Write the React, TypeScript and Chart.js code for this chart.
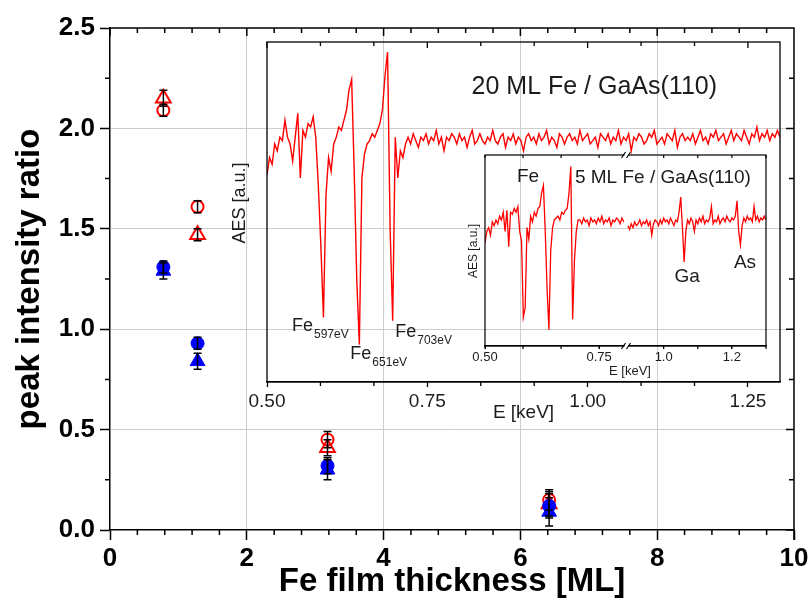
import React, { useEffect, useRef } from 'react';
import { Chart, registerables } from 'chart.js';

Chart.register(...registerables);

// ---------- main plot: peak intensity ratio vs. Fe film thickness ----------
const thicknessML = [0.78, 1.28, 3.18, 6.42];
const redCircleRatio = [2.09, 1.61, 0.45, 0.15];
const redCircleErr = [0.03, 0.03, 0.04, 0.05];
const redTriangleRatio = [2.15, 1.47, 0.41, 0.13];
const redTriangleErr = [0.04, 0.03, 0.04, 0.06];
const blueCircleRatio = [1.31, 0.93, 0.32, 0.12];
const blueCircleErr = [0.03, 0.03, 0.04, 0.06];
const blueTriangleRatio = [1.29, 0.84, 0.30, 0.09];
const blueTriangleErr = [0.04, 0.04, 0.05, 0.07];

// ---------- inset: AES spectrum of 20 ML Fe / GaAs(110) ----------
const spec20Start = 0.5; // keV
const spec20Step = 0.004; // keV
const spec20 = [
  0.61, 0.66, 0.64, 0.70, 0.68, 0.72, 0.71, 0.77, 0.72, 0.70,
  0.65, 0.72, 0.79, 0.60, 0.74, 0.72, 0.76, 0.75, 0.78, 0.72,
  0.58, 0.40, 0.19, 0.55, 0.66, 0.62, 0.70, 0.72, 0.75, 0.74,
  0.77, 0.80, 0.86, 0.89, 0.62, 0.30, 0.11, 0.60, 0.67, 0.70,
  0.71, 0.73, 0.72, 0.74, 0.76, 0.80, 0.90, 0.97, 0.45, 0.18,
  0.72, 0.60, 0.68, 0.66, 0.70,
  0.72, 0.70, 0.73, 0.71, 0.69, 0.72, 0.71, 0.73, 0.70, 0.72,
  0.71, 0.74, 0.70, 0.72, 0.68, 0.72, 0.71, 0.73, 0.72, 0.70,
  0.73, 0.71, 0.72, 0.69, 0.72, 0.74, 0.70, 0.71, 0.73, 0.71,
  0.70, 0.72, 0.71, 0.74, 0.71, 0.70, 0.72, 0.73, 0.69, 0.72,
  0.71, 0.73, 0.70, 0.72, 0.71, 0.68, 0.72, 0.73, 0.71, 0.72,
  0.70, 0.73, 0.71, 0.72, 0.74, 0.70, 0.72, 0.71, 0.69, 0.73,
  0.72, 0.70, 0.72, 0.73, 0.71, 0.72, 0.70, 0.74, 0.71, 0.72,
  0.73, 0.70, 0.71, 0.72, 0.69, 0.73, 0.72, 0.71, 0.73, 0.70,
  0.72, 0.71, 0.74, 0.70, 0.72, 0.71, 0.73, 0.68, 0.72, 0.71,
  0.73, 0.72, 0.70, 0.71, 0.73, 0.72, 0.74, 0.70, 0.71, 0.72,
  0.70, 0.73, 0.72, 0.71, 0.74, 0.69, 0.72, 0.73, 0.71, 0.72,
  0.71, 0.73, 0.70, 0.72, 0.74, 0.71, 0.72, 0.70, 0.73, 0.72,
  0.74, 0.71, 0.72, 0.73, 0.70, 0.72, 0.74, 0.71, 0.73, 0.72,
  0.71, 0.74, 0.72, 0.70, 0.73, 0.72, 0.75, 0.71, 0.73, 0.72,
  0.74, 0.71, 0.73, 0.72, 0.74, 0.72,
];
const spec20TickValues = [0.5, 0.75, 1.0, 1.25];
const spec20TickLabels = ['0.50', '0.75', '1.00', '1.25'];
const spec20Lines = [
  { sub: '597eV', e: 0.539, v: 0.15 },
  { sub: '651eV', e: 0.63, v: 0.068 },
  { sub: '703eV', e: 0.7, v: 0.132 },
];

// ---------- inner inset: 5 ML Fe / GaAs(110), broken energy axis ----------
const spec5LowStart = 0.5;
const spec5LowStep = 0.004;
const spec5Low = [
  0.54, 0.60, 0.62, 0.58, 0.65, 0.63, 0.66, 0.64, 0.68, 0.66,
  0.70, 0.60, 0.71, 0.52, 0.70, 0.69, 0.72, 0.70, 0.73, 0.60,
  0.55, 0.15, 0.20, 0.62, 0.56, 0.68, 0.65, 0.70, 0.68, 0.72,
  0.73, 0.80, 0.84, 0.60, 0.30, 0.085, 0.50, 0.62, 0.66, 0.67,
  0.68, 0.66, 0.70, 0.69, 0.71, 0.72, 0.80, 0.94, 0.14, 0.45,
  0.60, 0.66,
  0.66, 0.64, 0.67, 0.65, 0.66, 0.63, 0.67, 0.65, 0.66, 0.64,
  0.67, 0.65, 0.68, 0.64, 0.66, 0.65, 0.67, 0.63, 0.66, 0.65,
  0.67, 0.66, 0.64, 0.67, 0.65,
];
const spec5HighStart = 0.895;
const spec5HighStep = 0.005;
const spec5High = [
  0.63, 0.61, 0.64, 0.62, 0.65, 0.63, 0.64, 0.66, 0.63, 0.65,
  0.64, 0.66, 0.63, 0.65, 0.58, 0.64, 0.66, 0.65, 0.63, 0.66,
  0.64, 0.67, 0.65, 0.66, 0.64, 0.67, 0.65, 0.63, 0.66, 0.65,
  0.70, 0.78, 0.62, 0.44, 0.60, 0.66, 0.64, 0.67, 0.65, 0.60,
  0.66, 0.64, 0.67, 0.65, 0.68, 0.64, 0.66, 0.65, 0.67, 0.73,
  0.64, 0.66, 0.65, 0.68, 0.64, 0.66, 0.67, 0.65, 0.68, 0.66,
  0.65, 0.67, 0.66, 0.68, 0.76, 0.60, 0.53, 0.63, 0.67, 0.65,
  0.68, 0.66, 0.67, 0.65, 0.73, 0.66, 0.68, 0.65, 0.67, 0.66,
  0.68, 0.66,
];
const spec5LowTicks = [0.5, 0.75];
const spec5LowLabels = ['0.50', '0.75'];
const spec5HighTicks = [1.0, 1.2];
const spec5HighLabels = ['1.0', '1.2'];
const spec5Labels = [
  { text: 'Fe', axis: 'xa', e: 0.57, v: 0.86 },
  { text: '5 ML Fe / GaAs(110)', axis: 'xa', e: 0.697, v: 0.853 },
  { text: 'Ga', axis: 'xb', e: 1.032, v: 0.335 },
  { text: 'As', axis: 'xb', e: 1.206, v: 0.408 },
];

const FAMILY = '"Liberation Sans", Arial, Helvetica, sans-serif';
const RED = '#ff0000';
const BLUE = '#0000ff';
const GRID = '#cdcdcd';
const TEXT = '#1c1c1c';

function stepValues(min: number, max: number, step: number) {
  const out: number[] = [];
  const n = Math.round((max - min) / step);
  for (let k = 0; k <= n; k++) out.push(min + k * step);
  return out;
}
function onStep(v: number, step: number) {
  return Math.abs(v / step - Math.round(v / step)) < 1e-6;
}
function toPoints(start: number, step: number, values: number[]) {
  return values.map((v, i) => ({ x: start + i * step, y: v }));
}

// ---------- plugins ----------
const errorBars = {
  id: 'errorBars',
  afterDatasetsDraw(chart: any) {
    const { ctx } = chart;
    const y = chart.scales.y;
    ctx.save();
    ctx.strokeStyle = '#000';
    ctx.lineWidth = 1.5;
    chart.data.datasets.forEach((ds: any, i: number) => {
      const meta = chart.getDatasetMeta(i);
      meta.data.forEach((pt: any, j: number) => {
        const val = ds.data[j].y;
        const err = ds.errors[j];
        const top = y.getPixelForValue(val + err);
        const bot = y.getPixelForValue(val - err);
        ctx.beginPath();
        ctx.moveTo(pt.x, top);
        ctx.lineTo(pt.x, bot);
        ctx.moveTo(pt.x - 4, top);
        ctx.lineTo(pt.x + 4, top);
        ctx.moveTo(pt.x - 4, bot);
        ctx.lineTo(pt.x + 4, bot);
        ctx.stroke();
      });
    });
    ctx.restore();
  },
};

const mainFrame = {
  id: 'mainFrame',
  afterDraw(chart: any) {
    const { ctx, chartArea: a } = chart;
    const x = chart.scales.x;
    const y = chart.scales.y;
    ctx.save();
    ctx.strokeStyle = '#000';
    ctx.lineWidth = 1.5;
    ctx.beginPath();
    ctx.moveTo(a.left, a.top);
    ctx.lineTo(a.right, a.top);
    ctx.lineTo(a.right, a.bottom + 10);
    for (const v of stepValues(0, 10, 0.4)) {
      const px = x.getPixelForValue(v);
      const major = onStep(v, 2);
      ctx.moveTo(px, a.top);
      ctx.lineTo(px, a.top + (major ? 8 : 5));
      if (!major) {
        ctx.moveTo(px, a.bottom);
        ctx.lineTo(px, a.bottom + 5);
      }
    }
    for (const v of stepValues(0, 2.5, 0.25)) {
      const py = y.getPixelForValue(v);
      const major = onStep(v, 0.5);
      ctx.moveTo(a.right, py);
      ctx.lineTo(a.right - (major ? 8 : 5), py);
      if (!major) {
        ctx.moveTo(a.left, py);
        ctx.lineTo(a.left - 5, py);
      }
    }
    ctx.stroke();
    ctx.restore();
  },
};

const inset20Decor = {
  id: 'inset20Decor',
  afterDraw(chart: any) {
    const { ctx, chartArea: a } = chart;
    const x = chart.scales.x;
    const y = chart.scales.y;
    ctx.save();
    ctx.strokeStyle = '#000';
    ctx.lineWidth = 1.3;
    ctx.strokeRect(a.left, a.top, a.right - a.left, a.bottom - a.top);
    ctx.beginPath();
    for (const v of stepValues(0.5, 1.25, 0.25 / 3)) {
      const px = x.getPixelForValue(v);
      const major = onStep(v - 0.5, 0.25);
      ctx.moveTo(px, a.top);
      ctx.lineTo(px, a.top + (major ? 6 : 4));
      if (!major) {
        ctx.moveTo(px, a.bottom);
        ctx.lineTo(px, a.bottom + 4);
      }
    }
    ctx.stroke();

    ctx.fillStyle = TEXT;
    ctx.textBaseline = 'alphabetic';
    ctx.textAlign = 'left';
    ctx.font = `25px ${FAMILY}`;
    ctx.fillText('20 ML Fe / GaAs(110)', x.getPixelForValue(0.819), y.getPixelForValue(0.847));

    for (const ln of spec20Lines) {
      const px = x.getPixelForValue(ln.e);
      const py = y.getPixelForValue(ln.v);
      ctx.font = `18px ${FAMILY}`;
      ctx.fillText('Fe', px, py);
      const w = ctx.measureText('Fe').width;
      ctx.font = `12px ${FAMILY}`;
      ctx.fillText(ln.sub, px + w + 1, py + 7);
    }

    ctx.translate(40, 183);
    ctx.rotate(-Math.PI / 2);
    ctx.textAlign = 'center';
    ctx.textBaseline = 'middle';
    ctx.font = `18px ${FAMILY}`;
    ctx.fillText('AES [a.u.]', 0, 0);
    ctx.restore();
  },
};

const inset5Decor = {
  id: 'inset5Decor',
  afterDraw(chart: any) {
    const { ctx, chartArea: a } = chart;
    const xa = chart.scales.xa;
    const xb = chart.scales.xb;
    const y = chart.scales.y;
    ctx.save();
    ctx.strokeStyle = '#000';
    ctx.lineWidth = 1.2;
    ctx.strokeRect(a.left, a.top, a.right - a.left, a.bottom - a.top);
    ctx.beginPath();
    const ticks: number[] = [];
    for (const v of stepValues(0.5, 0.75, 0.25 / 3)) ticks.push(xa.getPixelForValue(v));
    for (const v of stepValues(1.0, 1.3, 0.1)) ticks.push(xb.getPixelForValue(v));
    for (const px of ticks) {
      ctx.moveTo(px, a.top);
      ctx.lineTo(px, a.top + 3);
      ctx.moveTo(px, a.bottom);
      ctx.lineTo(px, a.bottom + 3);
    }
    ctx.stroke();

    // axis break marks
    const bx = xa.right;
    for (const by of [a.top, a.bottom]) {
      ctx.fillStyle = '#fff';
      ctx.fillRect(bx - 2, by - 2, 4, 4);
      ctx.beginPath();
      ctx.moveTo(bx - 5, by + 3);
      ctx.lineTo(bx - 1, by - 3);
      ctx.moveTo(bx, by + 3);
      ctx.lineTo(bx + 4, by - 3);
      ctx.stroke();
    }

    ctx.fillStyle = TEXT;
    ctx.textAlign = 'left';
    ctx.textBaseline = 'alphabetic';
    ctx.font = `19px ${FAMILY}`;
    for (const lb of spec5Labels) {
      const sc = lb.axis === 'xa' ? xa : xb;
      ctx.fillText(lb.text, sc.getPixelForValue(lb.e), y.getPixelForValue(lb.v));
    }

    ctx.textAlign = 'center';
    ctx.textBaseline = 'middle';
    ctx.font = `13px ${FAMILY}`;
    ctx.fillText('E [keV]', 190, 231);

    ctx.translate(34, 111);
    ctx.rotate(-Math.PI / 2);
    ctx.font = `12px ${FAMILY}`;
    ctx.fillText('AES [a.u.]', 0, 0);
    ctx.restore();
  },
};

// ---------- components ----------
function MainChart() {
  const ref = useRef<HTMLCanvasElement>(null);
  useEffect(() => {
    const series = (
      values: number[],
      errs: number[],
      style: string,
      radius: number,
      color: string,
      filled: boolean,
    ) => ({
      data: thicknessML.map((x, i) => ({ x, y: values[i] })),
      errors: errs,
      showLine: false,
      pointStyle: style,
      pointRadius: radius,
      pointBorderWidth: filled ? 1 : 2,
      pointBorderColor: color,
      pointBackgroundColor: filled ? color : 'rgba(255,255,255,0)',
    });
    const tickFont = { family: FAMILY, size: 26, weight: 'bold' as const };
    const titleFont = { family: FAMILY, size: 33, weight: 'bold' as const };
    const chart = new Chart(ref.current as HTMLCanvasElement, {
      type: 'scatter',
      data: {
        datasets: [
          series(blueTriangleRatio, blueTriangleErr, 'triangle', 8.5, BLUE, true),
          series(blueCircleRatio, blueCircleErr, 'circle', 6.5, BLUE, true),
          series(redTriangleRatio, redTriangleErr, 'triangle', 8.5, RED, false),
          series(redCircleRatio, redCircleErr, 'circle', 6, RED, false),
        ] as any,
      },
      options: {
        animation: false,
        responsive: false,
        devicePixelRatio: 1,
        events: [],
        layout: { padding: { left: 0, top: 28, right: 18, bottom: 0 } },
        plugins: { legend: { display: false }, tooltip: { enabled: false } },
        scales: {
          x: {
            type: 'linear',
            min: 0,
            max: 10,
            ticks: { stepSize: 2, font: tickFont, color: '#000', padding: 3, maxRotation: 0 },
            grid: {
              color: (c: any) => (c.tick && (c.tick.value === 0 || c.tick.value === 10) ? 'rgba(0,0,0,0)' : GRID),
              tickColor: '#000',
              tickLength: 10,
              tickWidth: 1.5,
              lineWidth: 1,
            },
            border: { color: '#000', width: 1.5 },
            title: { display: true, text: 'Fe film thickness [ML]', font: titleFont, color: '#000', padding: 0 },
            afterFit: (s: any) => {
              s.height = 72;
            },
          },
          y: {
            type: 'linear',
            min: 0,
            max: 2.5,
            ticks: {
              stepSize: 0.5,
              font: tickFont,
              color: '#000',
              padding: 5,
              callback: (v: any) => Number(v).toFixed(1),
            },
            grid: {
              color: (c: any) => (c.tick && (c.tick.value === 0 || c.tick.value === 2.5) ? 'rgba(0,0,0,0)' : GRID),
              tickColor: '#000',
              tickLength: 10,
              tickWidth: 1.5,
              lineWidth: 1,
            },
            border: { color: '#000', width: 1.5 },
            title: {
              display: true,
              text: 'peak intensity ratio',
              font: titleFont,
              color: '#000',
              padding: { top: 10, bottom: 0 },
            },
            afterFit: (s: any) => {
              s.width = 110;
            },
          },
        },
      },
      plugins: [errorBars, mainFrame],
    });
    return () => chart.destroy();
  }, []);
  return (
    <canvas
      ref={ref}
      width={812}
      height={602}
      style={{ position: 'absolute', left: 0, top: 0, width: 812, height: 602 }}
    />
  );
}

function Inset20() {
  const ref = useRef<HTMLCanvasElement>(null);
  useEffect(() => {
    const chart = new Chart(ref.current as HTMLCanvasElement, {
      type: 'line',
      data: {
        datasets: [
          {
            data: toPoints(spec20Start, spec20Step, spec20),
            borderColor: RED,
            borderWidth: 1.4,
            pointRadius: 0,
            tension: 0,
          },
        ] as any,
      },
      options: {
        animation: false,
        responsive: false,
        devicePixelRatio: 1,
        events: [],
        layout: { padding: { left: 67, top: 22, right: 20, bottom: 15.6 } },
        plugins: { legend: { display: false }, tooltip: { enabled: false } },
        scales: {
          x: {
            type: 'linear',
            min: 0.5,
            max: 1.3,
            afterBuildTicks: (s: any) => {
              s.ticks = spec20TickValues.map((v) => ({ value: v }));
            },
            ticks: {
              font: { family: FAMILY, size: 19 },
              color: TEXT,
              padding: 3,
              maxRotation: 0,
              autoSkip: false,
              callback: (v: any) => spec20TickLabels[spec20TickValues.indexOf(Number(v))] ?? '',
            },
            grid: { drawOnChartArea: false, tickLength: 5, tickColor: '#000', tickWidth: 1.3 },
            border: { color: '#000', width: 1.3 },
            title: {
              display: true,
              text: 'E [keV]',
              font: { family: FAMILY, size: 19 },
              color: TEXT,
              padding: 0,
            },
            afterFit: (s: any) => {
              s.height = 42.4;
            },
          },
          y: { type: 'linear', min: 0, max: 1, display: false },
        },
      },
      plugins: [inset20Decor],
    });
    return () => chart.destroy();
  }, []);
  return (
    <canvas
      ref={ref}
      width={600}
      height={420}
      style={{ position: 'absolute', left: 200, top: 20, width: 600, height: 420 }}
    />
  );
}

function Inset5() {
  const ref = useRef<HTMLCanvasElement>(null);
  useEffect(() => {
    const smallTick = { family: FAMILY, size: 13 };
    const chart = new Chart(ref.current as HTMLCanvasElement, {
      type: 'line',
      data: {
        datasets: [
          {
            data: toPoints(spec5LowStart, spec5LowStep, spec5Low),
            xAxisID: 'xa',
            borderColor: RED,
            borderWidth: 1.3,
            pointRadius: 0,
            tension: 0,
          },
          {
            data: toPoints(spec5HighStart, spec5HighStep, spec5High),
            xAxisID: 'xb',
            borderColor: RED,
            borderWidth: 1.3,
            pointRadius: 0,
            tension: 0,
          },
        ] as any,
      },
      options: {
        animation: false,
        responsive: false,
        devicePixelRatio: 1,
        events: [],
        layout: { padding: { left: 45, top: 15, right: 34, bottom: 20 } },
        plugins: { legend: { display: false }, tooltip: { enabled: false } },
        scales: {
          xa: {
            type: 'linear',
            position: 'bottom',
            stack: 'energy',
            stackWeight: 141,
            min: 0.5,
            max: 0.81,
            afterBuildTicks: (s: any) => {
              s.ticks = spec5LowTicks.map((v) => ({ value: v }));
            },
            ticks: {
              font: smallTick,
              color: TEXT,
              padding: 1,
              maxRotation: 0,
              autoSkip: false,
              callback: (v: any) => spec5LowLabels[spec5LowTicks.indexOf(Number(v))] ?? '',
            },
            grid: { drawOnChartArea: false, tickLength: 3, tickColor: '#000' },
            border: { color: '#000', width: 1.2 },
            afterFit: (s: any) => {
              s.height = 24;
            },
          },
          xb: {
            type: 'linear',
            position: 'bottom',
            stack: 'energy',
            stackWeight: 139,
            min: 0.891,
            max: 1.3,
            afterBuildTicks: (s: any) => {
              s.ticks = spec5HighTicks.map((v) => ({ value: v }));
            },
            ticks: {
              font: smallTick,
              color: TEXT,
              padding: 1,
              maxRotation: 0,
              autoSkip: false,
              callback: (v: any) => spec5HighLabels[spec5HighTicks.indexOf(Number(v))] ?? '',
            },
            grid: { drawOnChartArea: false, tickLength: 3, tickColor: '#000' },
            border: { color: '#000', width: 1.2 },
            afterFit: (s: any) => {
              s.height = 24;
            },
          },
          y: { type: 'linear', min: 0, max: 1, display: false },
        },
      },
      plugins: [inset5Decor],
    });
    return () => chart.destroy();
  }, []);
  return (
    <canvas
      ref={ref}
      width={360}
      height={250}
      style={{ position: 'absolute', left: 440, top: 140, width: 360, height: 250 }}
    />
  );
}

export default function App() {
  return (
    <div
      style={{
        position: 'fixed',
        left: 0,
        top: 0,
        width: 812,
        height: 602,
        background: '#ffffff',
        overflow: 'hidden',
      }}
    >
      <MainChart />
      <Inset20 />
      <Inset5 />
    </div>
  );
}
